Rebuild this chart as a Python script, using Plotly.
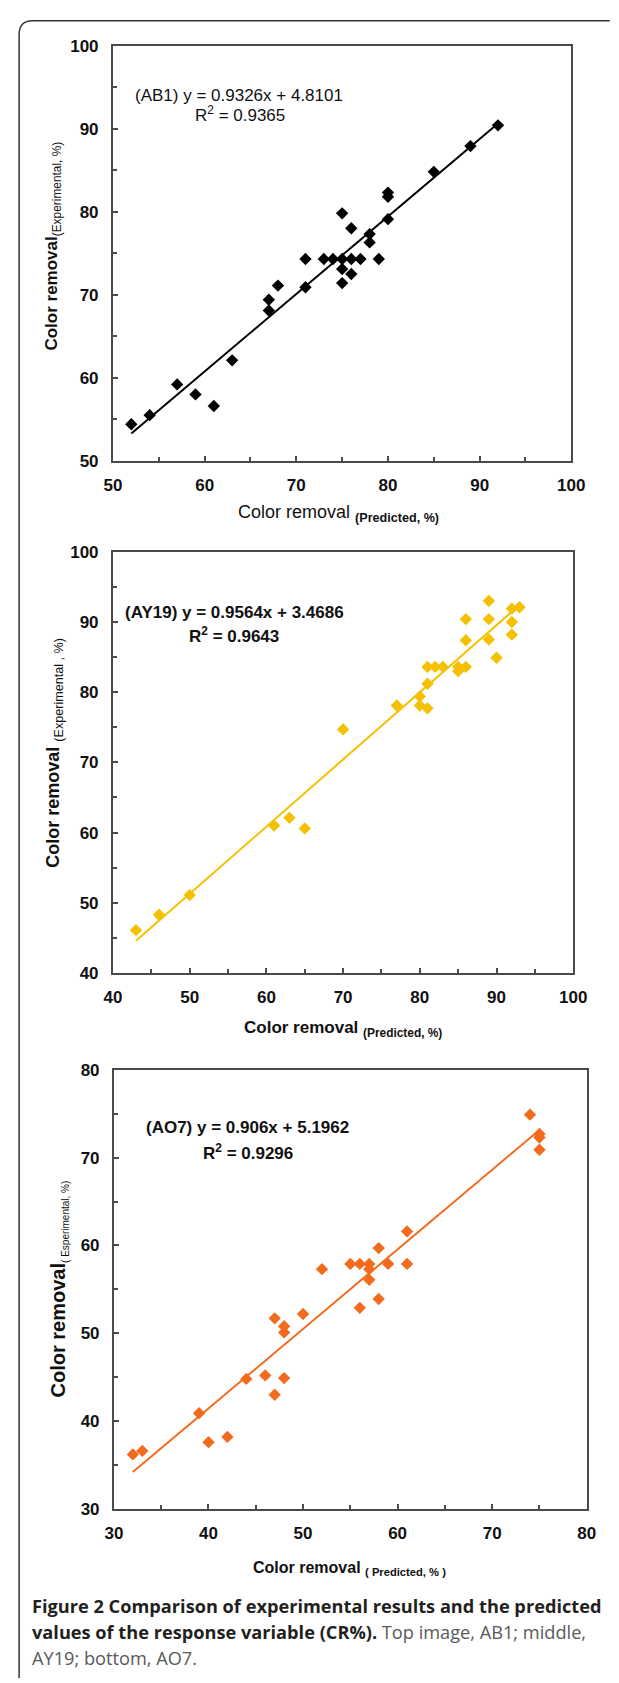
import plotly.graph_objects as go

W, H = 619, 1683

# ---------------- data ----------------
ab1_pred = [52, 54, 57, 59, 61, 63, 67, 67, 68, 71, 71, 73, 74, 75, 76, 77, 75, 75, 76, 75, 76, 78, 78, 79, 80, 80, 80, 85, 89, 92]
ab1_exp = [54.4, 55.5, 59.2, 58.0, 56.6, 62.1, 68.1, 69.4, 71.1, 70.9, 74.3, 74.3, 74.3, 74.3, 74.3, 74.3, 73.1, 71.4, 72.5, 79.8, 78.0, 77.3, 76.3, 74.3, 79.1, 81.8, 82.3, 84.8, 87.9, 90.4]

ay19_pred = [43, 46, 50, 61, 63, 65, 70, 77, 80, 80, 81, 81, 81, 82, 83, 85, 85, 86, 86, 86, 89, 89, 89, 90, 92, 92, 92, 93]
ay19_exp = [46.1, 48.3, 51.1, 61.0, 62.1, 60.6, 74.7, 78.1, 79.4, 78.1, 77.7, 81.2, 83.6, 83.6, 83.6, 83.6, 83.0, 83.6, 87.4, 90.4, 87.5, 90.4, 93.0, 84.9, 88.2, 90.0, 91.9, 92.1]

ao7_pred = [32, 33, 39, 40, 42, 44, 46, 47, 47, 48, 48, 48, 50, 52, 55, 56, 56, 57, 57, 57, 58, 58, 59, 61, 61, 74, 75, 75, 75]
ao7_exp = [36.2, 36.6, 40.9, 37.6, 38.2, 44.8, 45.2, 43.0, 51.7, 44.9, 50.1, 50.8, 52.2, 57.3, 57.9, 57.9, 52.9, 57.9, 57.3, 56.1, 59.7, 53.9, 57.9, 61.6, 57.9, 74.9, 72.7, 72.3, 70.9]

fit_slope = [0.9326, 0.9564, 0.906]
fit_intercept = [4.8101, 3.4686, 5.1962]
fit_r2 = ["0.9365", "0.9643", "0.9296"]
dye_names = ["AB1", "AY19", "AO7"]

x_ranges = [[50, 100], [40, 100], [30, 80]]
y_ranges = [[50, 100], [40, 100], [30, 80]]

colors = ["#000000", "#F5C000", "#F26B1D"]

# ---------------- layout helpers ----------------
def px_x(p):
    return p / W

def px_y(p):
    return 1 - p / H

# plot area boxes in pixels: (left, right, top, bottom)
boxes = [(108, 584, 37, 457), (108, 586, 549, 975), (109, 600, 1073, 1517)]

fig = go.Figure()

datasets = [(ab1_pred, ab1_exp), (ay19_pred, ay19_exp), (ao7_pred, ao7_exp)]
FONT = "Liberation Sans, Arial, sans-serif"

for i, (xs, ys) in enumerate(datasets):
    xa = "x" if i == 0 else f"x{i+1}"
    ya = "y" if i == 0 else f"y{i+1}"
    xmin, xmax = min(xs), max(xs)
    fig.add_trace(go.Scatter(
        x=[xmin, xmax],
        y=[fit_slope[i] * xmin + fit_intercept[i], fit_slope[i] * xmax + fit_intercept[i]],
        mode="lines", line=dict(color=colors[i], width=2),
        xaxis=xa, yaxis=ya, showlegend=False, hoverinfo="skip"))
    fig.add_trace(go.Scatter(
        x=xs, y=ys, mode="markers",
        marker=dict(symbol="diamond", size=9.5, color=colors[i], line=dict(width=0)),
        xaxis=xa, yaxis=ya, showlegend=False))

axis_common = dict(
    showline=True, linecolor="#4a4a4a", linewidth=2, mirror=True,
    showgrid=False, zeroline=False, ticks="inside", ticklen=5, tickwidth=1.5,
    tickcolor="#4a4a4a", dtick=10,
    minor=dict(ticks="inside", dtick=5, ticklen=4, tickwidth=1.5, tickcolor="#4a4a4a"),
    tickfont=dict(family=FONT, size=17, color="#111111", weight="bold"),
    fixedrange=True,
)

layout_axes = {}
for i, (l, r, t, b) in enumerate(boxes):
    xk = "xaxis" if i == 0 else f"xaxis{i+1}"
    yk = "yaxis" if i == 0 else f"yaxis{i+1}"
    xa = "x" if i == 0 else f"x{i+1}"
    ya = "y" if i == 0 else f"y{i+1}"
    layout_axes[xk] = dict(axis_common, domain=[px_x(l), px_x(r)], range=x_ranges[i],
                           anchor=ya, tick0=x_ranges[i][0], ticklabelstandoff=8)
    layout_axes[yk] = dict(axis_common, domain=[px_y(b), px_y(t)], range=y_ranges[i],
                           anchor=xa, tick0=y_ranges[i][0], ticklabelstandoff=9)

annotations = []

def ann(text, x, y, size, angle=0, xanchor="center", color="#111111", family=FONT):
    annotations.append(dict(
        text=text, x=px_x(x), y=px_y(y), xref="paper", yref="paper",
        xanchor=xanchor, yanchor="middle", showarrow=False, textangle=angle,
        font=dict(family=family, size=size, color=color)))

# y-axis titles
ann("<b>Color removal</b><sub>(Experimental, %)</sub>", 46, 240, 17, angle=-90)
ann("<b>Color removal</b> <sub>(Experimental , %)</sub>", 47, 752, 18, angle=-90)
ann("<b>Color removal</b><sub><span style='font-size:10px'>( Esperimental, %)</span></sub>", 52, 1295, 20, angle=-90)

# x-axis titles
ann("Color removal <sub><b>(Predicted, %)</b></sub>", 342, 510, 18)
ann("<b>Color removal</b> <sub><b>(Predicted, %)</b></sub>", 347, 1032, 17)
ann("<b>Color removal</b> <sub><b>( Predicted, % )</b></sub>", 354, 1577, 16)

# regression equations
eq_pos = [((239, 87), (240, 106)), ((234, 610), (234, 633)), ((248, 1131), (248, 1156))]
eq_bold = [False, True, True]
for i in range(3):
    eq = f"({dye_names[i]}) y = {fit_slope[i]}x + {fit_intercept[i]}"
    r2 = f"R<sup>2</sup> = {fit_r2[i]}"
    if eq_bold[i]:
        eq, r2 = f"<b>{eq}</b>", f"<b>{r2}</b>"
    (x1, y1), (x2, y2) = eq_pos[i]
    ann(eq, x1, y1, 17)
    ann(r2, x2, y2, 17)

# caption
CAP = "Open Sans, Noto Sans, sans-serif"
CAP_SIZE = 18.2
ann("<b>Figure 2 Comparison of experimental results and the predicted</b>", 22, 1615, CAP_SIZE,
    xanchor="left", color="#231f20", family=CAP)
ann("<b>values of the response variable (CR%).</b><span style='color:#58595b'> Top image, AB1; middle,</span>",
    22, 1642, CAP_SIZE, xanchor="left", color="#231f20", family=CAP)
ann("AY19; bottom, AO7.", 22, 1668, CAP_SIZE, xanchor="left", color="#58595b", family=CAP)

# outer rounded frame (left and top edges)
fx0, fy0 = px_x(10.5), px_y(12)
rx, ry = 14 / W, 14 / H
frame_path = (f"M {fx0},{px_y(H + 5)} L {fx0},{fy0 - ry} "
              f"Q {fx0},{fy0} {fx0 + rx},{fy0} L {px_x(W + 5)},{fy0}")

fig.update_layout(
    width=W, height=H,
    margin=dict(l=0, r=0, t=0, b=0),
    paper_bgcolor="white", plot_bgcolor="white",
    annotations=annotations,
    shapes=[dict(type="path", path=frame_path, xref="paper", yref="paper",
                 line=dict(color="#333333", width=1.5))],
    **layout_axes,
)

fix_js = ("document.documentElement.style.margin='0';document.documentElement.style.padding='0';"
          "document.body.style.margin='0';document.body.style.padding='0';"
          "document.documentElement.style.overflow='hidden';")
fig.write_html("out.html", config={"displayModeBar": False}, post_script=fix_js)
